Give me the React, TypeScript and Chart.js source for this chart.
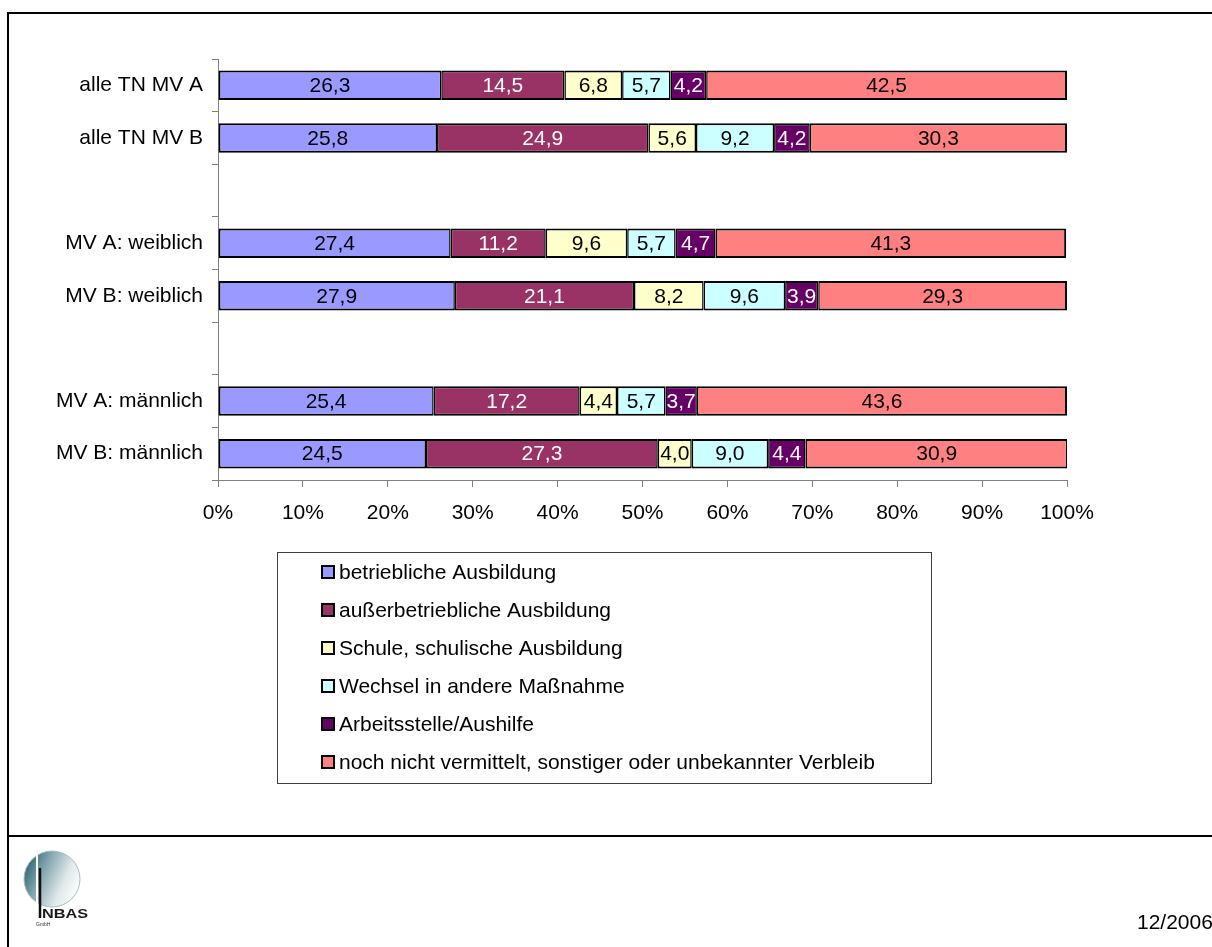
import React, { useEffect, useRef } from "react";
import { Chart, registerables } from "chart.js";

Chart.register(...registerables);

const categories = [
  "alle TN MV A",
  "alle TN MV B",
  "",
  "MV A: weiblich",
  "MV B: weiblich",
  "",
  "MV A: männlich",
  "MV B: männlich",
];

const seriesNames = [
  "betriebliche Ausbildung",
  "außerbetriebliche Ausbildung",
  "Schule, schulische Ausbildung",
  "Wechsel in andere Maßnahme",
  "Arbeitsstelle/Aushilfe",
  "noch nicht vermittelt, sonstiger oder unbekannter Verbleib",
];

const betrieblich = [26.3, 25.8, null, 27.4, 27.9, null, 25.4, 24.5];
const ausserbetrieblich = [14.5, 24.9, null, 11.2, 21.1, null, 17.2, 27.3];
const schule = [6.8, 5.6, null, 9.6, 8.2, null, 4.4, 4.0];
const wechsel = [5.7, 9.2, null, 5.7, 9.6, null, 5.7, 9.0];
const arbeit = [4.2, 4.2, null, 4.7, 3.9, null, 3.7, 4.4];
const nochNicht = [42.5, 30.3, null, 41.3, 29.3, null, 43.6, 30.9];

const xTickValues = [0, 10, 20, 30, 40, 50, 60, 70, 80, 90, 100];
const dateLabel = "12/2006";

const seriesData = [betrieblich, ausserbetrieblich, schule, wechsel, arbeit, nochNicht];
const fillColors = ["#9999FF", "#993366", "#FFFFCC", "#CCFFFF", "#660066", "#FF8080"];
const labelColors = ["#000000", "#FFFFFF", "#000000", "#000000", "#FFFFFF", "#000000"];

const FONT = '"Liberation Sans", Arial, sans-serif';

const decorPlugin = {
  id: "decor",
  afterDatasetsDraw(chart: any) {
    const ctx = chart.ctx;
    ctx.save();
    ctx.font = `21px ${FONT}`;
    ctx.textAlign = "center";
    ctx.textBaseline = "middle";
    chart.data.datasets.forEach((ds: any, i: number) => {
      const meta = chart.getDatasetMeta(i);
      meta.data.forEach((bar: any, j: number) => {
        const v = ds.data[j];
        if (v == null) return;
        const p = bar.getProps(["x", "y", "base"], true);
        ctx.fillStyle = labelColors[i];
        ctx.fillText(v.toFixed(1).replace(".", ","), (p.x + p.base) / 2, p.y + 1);
      });
    });
    ctx.restore();
  },
  afterDraw(chart: any) {
    const ctx = chart.ctx;
    ctx.save();
    // frame
    ctx.strokeStyle = "#000";
    ctx.lineWidth = 2;
    ctx.beginPath();
    ctx.moveTo(7, 13);
    ctx.lineTo(1212, 13);
    ctx.moveTo(8, 12);
    ctx.lineTo(8, 947);
    ctx.moveTo(8, 836);
    ctx.lineTo(1212, 836);
    ctx.stroke();

    // legend box
    ctx.lineWidth = 1;
    ctx.strokeStyle = "#404040";
    ctx.strokeRect(277.5, 552.5, 654, 231);
    ctx.font = `21px ${FONT}`;
    ctx.textAlign = "left";
    ctx.textBaseline = "middle";
    seriesNames.forEach((name, i) => {
      const cy = 572 + i * 38;
      ctx.fillStyle = fillColors[i];
      ctx.fillRect(322, cy - 6, 12, 12);
      ctx.lineWidth = 2;
      ctx.strokeStyle = "#000";
      ctx.strokeRect(322, cy - 6, 12, 12);
      ctx.fillStyle = "#000";
      ctx.fillText(name, 339, cy + 1);
    });

    // date
    ctx.font = `21px ${FONT}`;
    ctx.fillStyle = "#000";
    ctx.textBaseline = "middle";
    ctx.fillText(dateLabel, 1137, 923);

    // logo
    const g = ctx.createLinearGradient(25, 865, 80, 890);
    g.addColorStop(0, "#2f6672");
    g.addColorStop(0.3, "#7ea3ac");
    g.addColorStop(0.7, "#dfe8ea");
    g.addColorStop(1, "#ffffff");
    ctx.fillStyle = g;
    ctx.beginPath();
    ctx.arc(52, 879, 28, 0, Math.PI * 2);
    ctx.fill();
    ctx.strokeStyle = "#a8bcc1";
    ctx.lineWidth = 1;
    ctx.stroke();
    ctx.strokeStyle = "#ffffff";
    ctx.lineWidth = 2;
    ctx.beginPath();
    ctx.moveTo(37, 855);
    ctx.lineTo(37, 906);
    ctx.stroke();
    ctx.strokeStyle = "#111";
    ctx.lineWidth = 2.5;
    ctx.beginPath();
    ctx.moveTo(40, 868);
    ctx.lineTo(40, 918);
    ctx.stroke();
    ctx.fillStyle = "#1a1a1a";
    ctx.textBaseline = "alphabetic";
    ctx.save();
    ctx.translate(42, 918);
    ctx.scale(1.25, 1);
    ctx.font = `bold 13px ${FONT}`;
    ctx.fillText("NBAS", 0, 0);
    ctx.restore();
    ctx.font = `5px ${FONT}`;
    ctx.fillStyle = "#333";
    ctx.fillText("GmbH", 36, 926);
    ctx.restore();
  },
};

export default function App() {
  const ref = useRef<HTMLCanvasElement | null>(null);

  useEffect(() => {
    if (!ref.current) return;
    const n = seriesData.length;
    const chart = new Chart(ref.current, {
      type: "bar",
      data: {
        labels: categories,
        datasets: seriesData.map((d, i) => ({
          label: seriesNames[i],
          data: d,
          backgroundColor: fillColors[i],
          borderColor: "#000000",
          borderWidth: {
            top: 2,
            bottom: 2,
            left: i === 0 ? 2 : 1.5,
            right: i === n - 1 ? 2 : 1.5,
          },
          borderSkipped: false,
          barPercentage: 0.56,
          categoryPercentage: 1,
        })),
      },
      options: {
        indexAxis: "y",
        responsive: false,
        animation: false,
        events: [],
        layout: { padding: { left: 0, right: 145, top: 59, bottom: 407 } },
        plugins: {
          legend: { display: false },
          tooltip: { enabled: false },
          title: { display: false },
        },
        scales: {
          x: {
            type: "linear",
            stacked: true,
            min: 0,
            max: 100,
            afterBuildTicks: (scale: any) => {
              scale.ticks = xTickValues.map((v) => ({ value: v }));
            },
            ticks: {
              callback: (v: any) => v + "%",
              font: { size: 21, family: FONT },
              color: "#000",
              padding: 14,
              maxRotation: 0,
              autoSkip: false,
            },
            grid: {
              drawOnChartArea: false,
              drawTicks: true,
              tickLength: 7,
              color: "#808080",
            },
            border: { color: "#808080", width: 1 },
            afterFit: (scale: any) => {
              scale.height = 60;
              scale.paddingLeft = 0;
              scale.paddingRight = 0;
            },
          },
          y: {
            type: "category",
            stacked: true,
            offset: true,
            ticks: {
              font: { size: 21, family: FONT },
              color: "#000",
              padding: 9,
              autoSkip: false,
            },
            grid: {
              offset: true,
              drawOnChartArea: false,
              drawTicks: true,
              tickLength: 6,
              color: "#808080",
            },
            border: { color: "#808080", width: 1 },
            afterFit: (scale: any) => {
              scale.width = 218;
              scale.paddingTop = 0;
              scale.paddingBottom = 0;
            },
          },
        },
      },
      plugins: [decorPlugin],
    });
    return () => chart.destroy();
  }, []);

  return (
    <div style={{ position: "absolute", left: 0, top: 0, width: 1212, height: 947, background: "#fff" }}>
      <canvas ref={ref} width={1212} height={947} style={{ display: "block", width: 1212, height: 947 }} />
    </div>
  );
}
